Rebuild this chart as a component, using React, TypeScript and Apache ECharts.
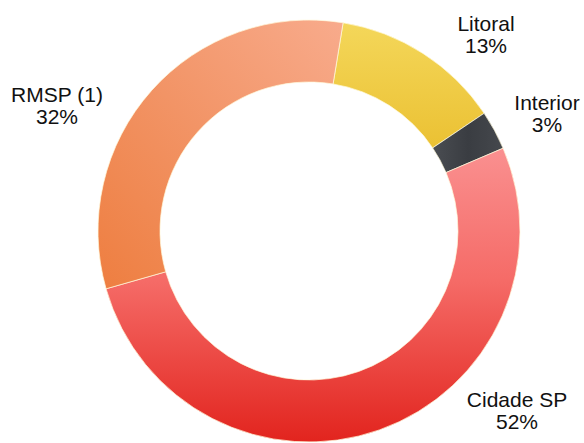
import React, { useEffect, useRef } from "react";
import * as echarts from "echarts";

const categories = ["Litoral", "Interior", "Cidade SP", "RMSP (1)"];
const values = [13, 3, 52, 32];
const percentLabels = ["13%", "3%", "52%", "32%"];

// label anchor positions (layout only)
const labelAnchors: [number, number][] = [
  [486, 34],
  [547, 113],
  [517, 410],
  [57, 105],
];

const sliceColors = [
  new echarts.graphic.LinearGradient(0, 0, 0, 1, [
    { offset: 0, color: "#F4D75A" },
    { offset: 1, color: "#EBC133" },
  ]),
  new echarts.graphic.LinearGradient(0, 0, 1, 0, [
    { offset: 0, color: "#4A4D52" },
    { offset: 0.5, color: "#3A3D42" },
    { offset: 1, color: "#45484D" },
  ]),
  new echarts.graphic.LinearGradient(0, 0, 0, 1, [
    { offset: 0, color: "#FA9090" },
    { offset: 0.45, color: "#F56B67" },
    { offset: 1, color: "#E2241E" },
  ]),
  new echarts.graphic.LinearGradient(1, 0, 0, 1, [
    { offset: 0, color: "#F8AB8C" },
    { offset: 0.5, color: "#F29466" },
    { offset: 1, color: "#EE7E40" },
  ]),
];

export default function App() {
  const ref = useRef<HTMLDivElement>(null);
  useEffect(() => {
    if (!ref.current) return;
    const chart = echarts.init(ref.current, undefined, { renderer: "svg" });
    chart.setOption({
      animation: false,
      backgroundColor: "#ffffff",
      series: [
        {
          type: "pie",
          center: [309, 231],
          radius: [149, 211],
          startAngle: 80.7,
          clockwise: true,
          avoidLabelOverlap: false,
          itemStyle: {
            borderColor: "rgba(255,250,220,0.7)",
            borderWidth: 1,
          },
          label: {
            show: true,
            position: "outside",
            formatter: (p: any) => `${p.name}\n${percentLabels[p.dataIndex]}`,
            fontFamily: "Liberation Sans, Arial, sans-serif",
            fontSize: 21,
            lineHeight: 22,
            color: "#111111",
            align: "center",
          },
          labelLine: { show: false },
          labelLayout: (params: any) => {
            const a = labelAnchors[params.dataIndex];
            return { x: a[0], y: a[1], align: "center", verticalAlign: "middle" };
          },
          emphasis: { disabled: true },
          data: categories.map((c, i) => ({
            name: c,
            value: values[i],
            itemStyle: { color: sliceColors[i] },
          })),
        },
      ],
    });
    return () => chart.dispose();
  }, []);
  return (
    <div
      ref={ref}
      style={{ position: "fixed", left: 0, top: 0, width: 584, height: 443 }}
    />
  );
}
